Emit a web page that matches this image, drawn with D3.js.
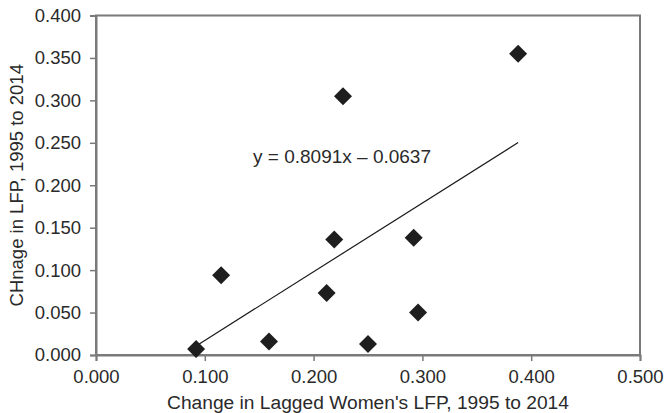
<!DOCTYPE html>
<html>
<head>
<meta charset="utf-8">
<script src="https://cdn.jsdelivr.net/npm/d3@7"></script>
<style>
  body { margin: 0; background: #fff; }
  text { font-family: "Liberation Sans", Arial, sans-serif; fill: #2a2a2a; }
</style>
</head>
<body>
<script>
  // data
  var xValues = [0.092, 0.115, 0.159, 0.212, 0.219, 0.227, 0.250, 0.292, 0.296, 0.388];
  var yValues = [0.007, 0.094, 0.016, 0.073, 0.136, 0.305, 0.013, 0.138, 0.050, 0.355];
  var slope = 0.8091, intercept = -0.0637;
  var xTicks = [0, 0.1, 0.2, 0.3, 0.4, 0.5];
  var yTicks = [0, 0.05, 0.1, 0.15, 0.2, 0.25, 0.3, 0.35, 0.4];
  var xTitle = "Change in Lagged Women's LFP, 1995 to 2014";
  var yTitle = "CHnage in LFP, 1995 to 2014";

  var svgWidth = 665, svgHeight = 413;
  var plotLeft = 96, plotRight = 640, plotTop = 15.5, plotBottom = 355;

  var svg = d3.select('body').append('svg')
    .attr('width', svgWidth)
    .attr('height', svgHeight);

  var x = d3.scaleLinear().domain([0, 0.5]).range([plotLeft, plotRight]);
  var y = d3.scaleLinear().domain([0, 0.4]).range([plotBottom, plotTop]);

  var fmt = d3.format('.3f');

  // frame
  svg.append('rect')
    .attr('x', plotLeft).attr('y', plotTop)
    .attr('width', plotRight - plotLeft).attr('height', plotBottom - plotTop)
    .attr('fill', 'none').attr('stroke', '#7a7a7a').attr('stroke-width', 2);

  var xAxis = svg.append('g')
    .attr('transform', 'translate(0,' + plotBottom + ')')
    .call(d3.axisBottom(x).tickValues(xTicks).tickFormat(fmt).tickSize(6).tickPadding(9));

  var yAxis = svg.append('g')
    .attr('transform', 'translate(' + plotLeft + ',0)')
    .call(d3.axisLeft(y).tickValues(yTicks).tickFormat(fmt).tickSize(6).tickPadding(9));

  [xAxis, yAxis].forEach(function(g) {
    g.select('.domain').attr('stroke', '#7a7a7a').attr('stroke-width', 2);
    g.selectAll('.tick line').attr('stroke', '#7a7a7a').attr('stroke-width', 1.5);
    g.selectAll('.tick text')
      .attr('font-size', 18.5)
      .attr('font-family', '"Liberation Sans", Arial, sans-serif')
      .attr('fill', '#2a2a2a');
  });

  // trend line over the data range
  var xMin = d3.min(xValues), xMax = d3.max(xValues);
  svg.append('line')
    .attr('x1', x(xMin)).attr('y1', y(slope * xMin + intercept))
    .attr('x2', x(xMax)).attr('y2', y(slope * xMax + intercept))
    .attr('stroke', '#1a1a1a').attr('stroke-width', 1.2);

  var points = xValues.map(function(d, i) { return { x: d, y: yValues[i] }; });

  svg.selectAll('path.pt')
    .data(points)
    .enter()
    .append('path')
      .attr('class', 'pt')
      .attr('d', 'M0,-9L9,0L0,9L-9,0Z')
      .attr('transform', function(d) { return 'translate(' + x(d.x) + ',' + y(d.y) + ')'; })
      .attr('fill', '#1e1e1e');

  svg.append('text')
    .attr('x', 253).attr('y', 163)
    .attr('font-size', 19)
    .text('y = 0.8091x \u2013 0.0637');

  svg.append('text')
    .attr('x', 368).attr('y', 409)
    .attr('text-anchor', 'middle')
    .attr('font-size', 19.2)
    .text(xTitle);

  svg.append('text')
    .attr('transform', 'translate(23,' + (plotTop + plotBottom) / 2 + ') rotate(-90)')
    .attr('text-anchor', 'middle')
    .attr('font-size', 18.5)
    .text(yTitle);
</script>
</body>
</html>
